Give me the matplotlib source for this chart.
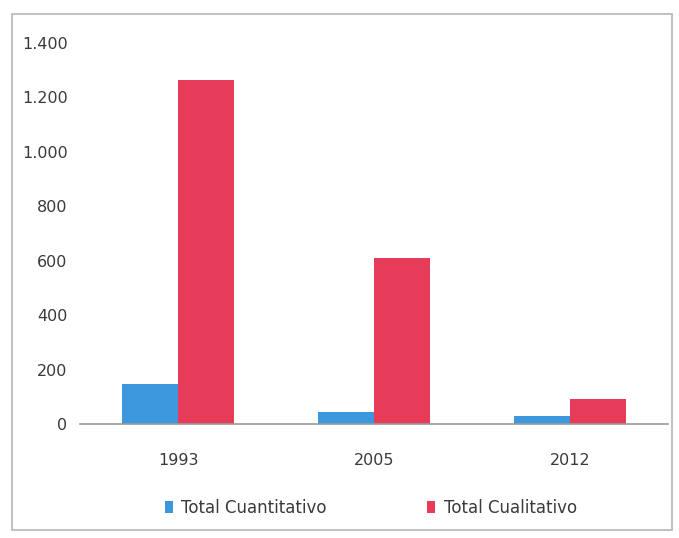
import matplotlib.pyplot as plt
from matplotlib.patches import Rectangle
from matplotlib.ticker import FuncFormatter
import numpy as np

plt.rcParams['font.family'] = ['Liberation Sans Narrow', 'DejaVu Sans']

years = ['1993', '2005', '2012']
cuantitativo = [145, 45, 30]
cualitativo = [1265, 610, 90]
series_names = ['Total Cuantitativo', 'Total Cualitativo']
yticks = [0, 200, 400, 600, 800, 1000, 1200, 1400]

blue = '#3d97dc'
red = '#e63c5a'

fig = plt.figure(figsize=(6.79, 5.38), dpi=100)
ax = fig.add_axes([0.118, 0.212, 0.866, 0.708])

x = np.arange(len(years))
w = 0.285
ax.bar(x - w / 2, cuantitativo, w, color=blue, label=series_names[0])
ax.bar(x + w / 2, cualitativo, w, color=red, label=series_names[1])

ax.set_xlim(-0.5, 2.5)
ax.set_ylim(0, 1400)
ax.set_yticks(yticks)
ax.yaxis.set_major_formatter(FuncFormatter(lambda v, p: f'{int(v):,}'.replace(',', '.')))
ax.set_xticks(x)
ax.set_xticklabels(years)

for s in ['top', 'right', 'left']:
    ax.spines[s].set_visible(False)
ax.spines['bottom'].set_color('#9a9a9a')
ax.spines['bottom'].set_linewidth(1.2)
ax.tick_params(axis='y', length=0, pad=9, labelsize=11.5, labelcolor='#3a3a3a')
ax.tick_params(axis='x', length=0, pad=21, labelsize=11.5, labelcolor='#3a3a3a')

fig.legend(loc='center', bbox_to_anchor=(0.546, 0.056), ncol=2, frameon=False,
           fontsize=12, handlelength=0.5, handleheight=0.8, handletextpad=0.5,
           columnspacing=6.0, labelcolor='#3a3a3a')

fig.patches.append(Rectangle((12 / 679, 8 / 538), 660 / 679, 516 / 538,
                             transform=fig.transFigure, fill=False,
                             edgecolor='#b5b5b5', linewidth=1.2))

fig.savefig('out.png', dpi=100)
